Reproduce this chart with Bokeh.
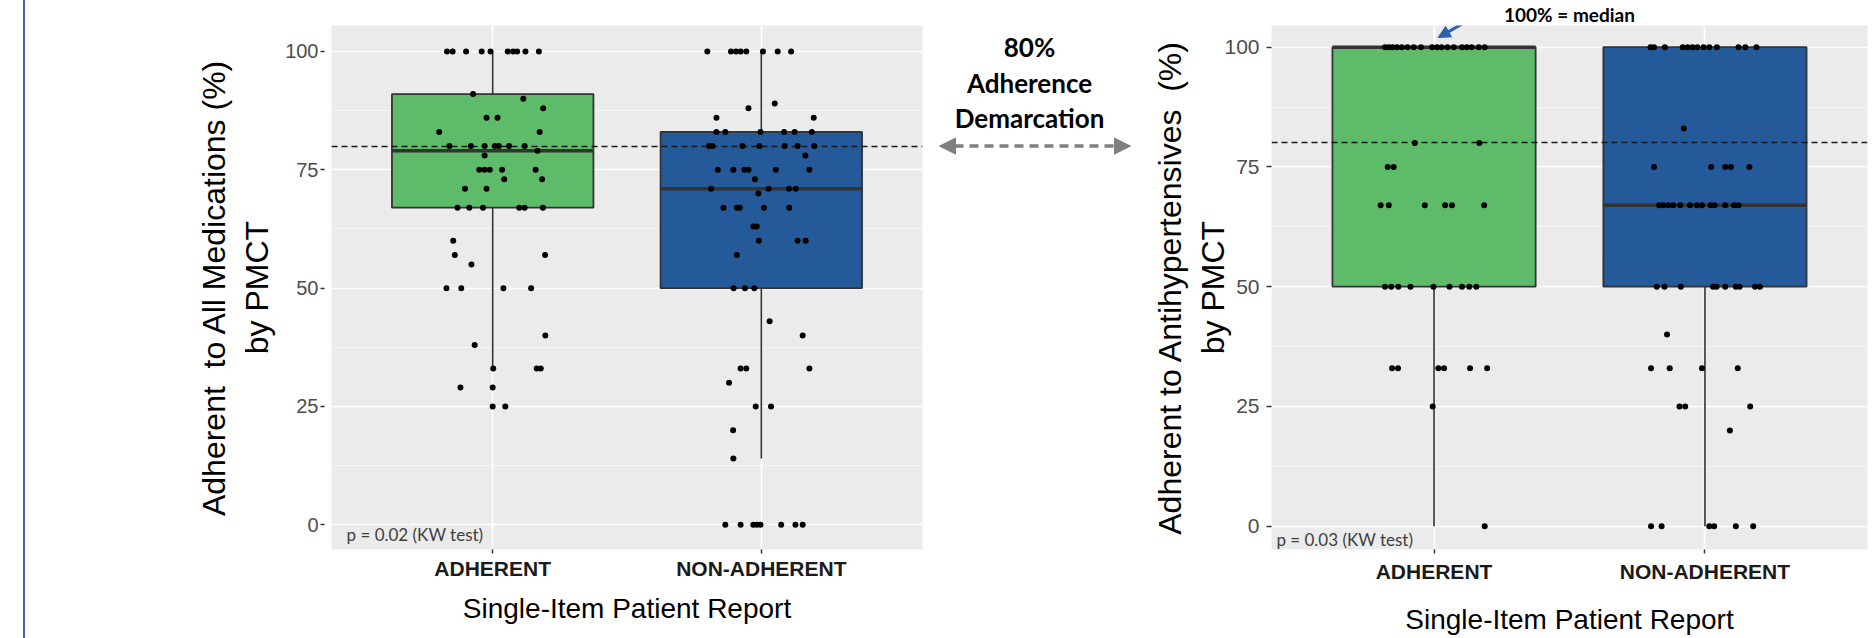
from bokeh.plotting import figure
from bokeh.layouts import row
from bokeh.models import Range1d, FixedTicker, Label, Arrow, NormalHead, Div
from bokeh.embed import file_html
from bokeh.resources import INLINE

# ---------------- data ----------------
categories = ["ADHERENT", "NON-ADHERENT"]
cat_pos = [1, 2]
y_ticks = [0, 25, 50, 75, 100]
y_minor = [12.5, 37.5, 62.5, 87.5]
threshold = 80

# Panel A: adherent to all medications (%) by PMCT
a_q1 = [67, 50]
a_med = [79, 71]
a_q3 = [91, 83]
a_lo = [33, 14]
a_hi = [100, 100]

a_adh_y = [100, 100, 100, 100, 100, 100, 100, 100, 100, 100, 91, 90, 88, 86, 86, 83, 83,
           80, 80, 80, 80, 80, 80, 80, 79, 78, 75, 75, 75, 75, 75, 73, 73, 71, 71,
           67, 67, 67, 67, 67, 67, 60, 57, 57, 55, 50, 50, 50, 50, 40, 38, 33, 33, 33,
           29, 29, 25, 25]
a_adh_dx = [-0.170, -0.149, -0.099, -0.041, -0.008, 0.056, 0.076, 0.091, 0.122, 0.172,
            -0.073, 0.114, 0.188, -0.023, 0.018, -0.199, 0.175,
            -0.161, -0.081, -0.030, 0.008, 0.023, 0.061, 0.119, 0.167, -0.030,
            -0.050, -0.030, -0.011, 0.035, 0.160, 0.043, 0.184, -0.103, -0.023,
            -0.131, -0.087, -0.036, 0.099, 0.119, 0.187, -0.147, -0.141, 0.195, -0.079,
            -0.172, -0.117, 0.040, 0.143, 0.196, -0.067, 0.002, 0.164, 0.179,
            -0.120, 0.000, 0.000, 0.047]

a_non_y = [100, 100, 100, 100, 100, 100, 100, 100, 89, 88, 86, 86,
           83, 83, 83, 83, 83, 83, 80, 80, 80, 80, 80, 80, 80, 78,
           75, 75, 75, 75, 75, 75, 73, 71, 71, 71, 71, 70, 67, 67, 67, 67, 67,
           63, 63, 60, 60, 60, 57, 50, 50, 50, 43, 40, 33, 33, 33, 30, 25, 25, 20, 14,
           0, 0, 0, 0, 0, 0, 0, 0]
a_non_dx = [-0.201, -0.113, -0.094, -0.077, -0.056, 0.006, 0.061, 0.111, 0.050, -0.048,
            -0.167, 0.195, -0.167, -0.134, -0.003, 0.085, 0.124, 0.188,
            -0.194, -0.182, -0.070, -0.007, 0.087, 0.135, 0.197, 0.164,
            -0.162, -0.104, -0.063, -0.048, 0.054, 0.179, -0.024, -0.187, 0.027, 0.103, 0.128,
            -0.011, -0.141, -0.091, -0.080, 0.010, 0.104, -0.030, -0.017,
            -0.009, 0.135, 0.165, -0.091, -0.103, -0.061, -0.026, 0.031, 0.154,
            -0.077, -0.056, 0.179, -0.120, -0.021, 0.036, -0.105, -0.104,
            -0.134, -0.077, -0.030, -0.017, -0.003, 0.074, 0.127, 0.154]

# Panel B: adherent to antihypertensives (%) by PMCT
b_q1 = [50, 50]
b_med = [100, 67]
b_q3 = [100, 100]
b_lo = [0, 0]
b_hi = [100, 100]

b_adh_y = [100, 100, 100, 100, 100, 100, 100, 100, 100, 100, 100, 100, 100, 100, 100, 100, 100, 100,
           80, 80, 75, 75, 67, 67, 67, 67, 67, 67, 50, 50, 50, 50, 50, 50, 50, 50, 50,
           33, 33, 33, 33, 33, 33, 25, 0]
b_adh_dx = [-0.181, -0.167, -0.153, -0.137, -0.119, -0.098, -0.075, -0.048, -0.007, 0.011,
            0.028, 0.050, 0.073, 0.103, 0.121, 0.139, 0.165, 0.187,
            -0.071, 0.167, -0.171, -0.149, -0.197, -0.167, -0.034, 0.041, 0.066, 0.185,
            -0.181, -0.158, -0.132, -0.087, -0.002, 0.057, 0.103, 0.130, 0.156,
            -0.155, -0.133, 0.016, 0.037, 0.133, 0.196, -0.005, 0.187]

b_non_y = [100, 100, 100, 100, 100, 100, 100, 100, 100, 100, 100, 100, 100, 83,
           75, 75, 75, 75, 75, 67, 67, 67, 67, 67, 67, 67, 67, 67, 67, 67, 67, 67,
           50, 50, 50, 50, 50, 50, 50, 50, 50, 50, 40, 33, 33, 33, 33, 25, 25, 25, 20,
           0, 0, 0, 0, 0, 0]
b_non_dx = [-0.201, -0.188, -0.148, -0.082, -0.064, -0.046, -0.028, -0.005, 0.016, 0.044,
            0.124, 0.149, 0.190, -0.078, -0.188, 0.023, 0.075, 0.096, 0.164,
            -0.169, -0.153, -0.135, -0.117, -0.091, -0.055, -0.030, -0.011, 0.021, 0.036,
            0.075, 0.108, 0.124,
            -0.178, -0.149, -0.089, 0.030, 0.043, 0.075, 0.114, 0.128, 0.185, 0.203,
            -0.140, -0.199, -0.130, -0.011, 0.121, -0.094, -0.073, 0.167, 0.092,
            -0.199, -0.160, 0.016, 0.034, 0.114, 0.178]

p_values = ["p = 0.02 (KW test)", "p = 0.03 (KW test)"]
y_titles = ["Adherent \u00a0to All Medications (%)\nby PMCT",
            "Adherent to Antihypertensives \u00a0(%)\nby PMCT"]
x_title = "Single-Item Patient Report"
demarcation_lines = ["80%", "Adherence", "Demarcation"]
median_note = "100% = median"

# ---------------- style ----------------
FONT = "Liberation Sans"
GREEN = "#5DBB6A"
BLUE = "#245A99"
DARK = "#333333"
ARROW_BLUE = "#2E5FA8"
H = 638
TOP = 24
BOTTOM = 89
BOX_W = 0.75


def panel(width, mb_left, mb_right, yr, q1, med, q3, lo, hi, groups,
          ytitle, ytick_size, ytick_in, ytick_out, ylab_standoff, ytitle_standoff,
          xlab_standoff, xtitle_standoff, ptext, px, py):
    p = figure(width=width, height=H, x_range=Range1d(0.4, 2.6), y_range=Range1d(*yr),
               output_backend="svg", toolbar_location=None,
               min_border_left=mb_left, min_border_right=mb_right,
               min_border_top=TOP, min_border_bottom=BOTTOM)
    p.background_fill_color = "#EBEBEB"
    p.border_fill_color = "white"
    p.outline_line_color = None

    # grid
    p.xgrid.grid_line_color = "white"
    p.xgrid.grid_line_width = 1.6
    p.ygrid.grid_line_color = "white"
    p.ygrid.grid_line_width = 1.6
    p.ygrid.minor_grid_line_color = "#F5F5F5"
    p.ygrid.minor_grid_line_width = 1

    # y axis
    p.yaxis.ticker = FixedTicker(ticks=y_ticks, minor_ticks=y_minor)
    p.yaxis.axis_line_color = None
    p.yaxis.minor_tick_line_color = None
    p.yaxis.major_tick_line_color = DARK
    p.yaxis.major_tick_line_width = 1.5
    p.yaxis.major_tick_in = ytick_in
    p.yaxis.major_tick_out = ytick_out
    p.yaxis.major_label_standoff = ylab_standoff
    p.yaxis.major_label_text_font = FONT
    p.yaxis.major_label_text_font_size = ytick_size
    p.yaxis.major_label_text_color = "#4D4D4D"
    p.yaxis.axis_label = ytitle
    p.yaxis.axis_label_text_font = FONT
    p.yaxis.axis_label_text_font_size = "32px"
    p.yaxis.axis_label_text_font_style = "normal"
    p.yaxis.axis_label_text_color = "black"
    p.yaxis.axis_label_standoff = ytitle_standoff

    # x axis
    p.xaxis.ticker = FixedTicker(ticks=cat_pos)
    p.xaxis.major_label_overrides = {c: n for c, n in zip(cat_pos, categories)}
    p.xaxis.axis_line_color = None
    p.xaxis.minor_tick_line_color = None
    p.xaxis.major_tick_line_color = DARK
    p.xaxis.major_tick_line_width = 1.5
    p.xaxis.major_tick_in = 0
    p.xaxis.major_tick_out = 4
    p.xaxis.major_label_standoff = xlab_standoff
    p.xaxis.major_label_text_font = FONT
    p.xaxis.major_label_text_font_size = "21px"
    p.xaxis.major_label_text_font_style = "bold"
    p.xaxis.major_label_text_color = "#1A1A1A"
    p.xaxis.axis_label = x_title
    p.xaxis.axis_label_text_font = FONT
    p.xaxis.axis_label_text_font_size = "28px"
    p.xaxis.axis_label_text_font_style = "normal"
    p.xaxis.axis_label_text_color = "black"
    p.xaxis.axis_label_standoff = xtitle_standoff

    # boxplots
    p.segment(x0=cat_pos, y0=q3, x1=cat_pos, y1=hi, line_color=DARK, line_width=1.6)
    p.segment(x0=cat_pos, y0=lo, x1=cat_pos, y1=q1, line_color=DARK, line_width=1.6)
    p.vbar(x=cat_pos, width=BOX_W, bottom=q1, top=q3, fill_color=[GREEN, BLUE],
           line_color=DARK, line_width=1.8)
    p.segment(x0=[c - BOX_W / 2 for c in cat_pos], y0=med,
              x1=[c + BOX_W / 2 for c in cat_pos], y1=med,
              line_color=DARK, line_width=3.5)

    # 80 % demarcation
    p.hspan(y=[threshold], line_color="#1A1A1A", line_width=1.6, line_dash="6 4")

    # jittered points
    for c, (ys, dxs) in zip(cat_pos, groups):
        p.scatter(x=[c + d for d in dxs], y=ys, size=6, fill_color="black",
                  line_color=None)

    p.add_layout(Label(x=px, y=py, text=ptext, text_font="Lato", text_font_size="17px",
                       text_color="#404040", text_baseline="middle", text_align="left"))
    return p


LEFT_YR = (-5.21, 105.48)
RIGHT_YR = (-4.85, 104.52)

left = panel(890, 291, 8, LEFT_YR, a_q1, a_med, a_q3, a_lo, a_hi,
             [(a_adh_y, a_adh_dx), (a_non_y, a_non_dx)],
             y_titles[0], "20px", -7, 11, 2, 7, 3, 10, p_values[0], 0.456, -2.0)

right = panel(734, 131, 7, RIGHT_YR, b_q1, b_med, b_q3, b_lo, b_hi,
              [(b_adh_y, b_adh_dx), (b_non_y, b_non_dx)],
              y_titles[1], "21px", 0, 5, 7, -10, 6, 18, p_values[1], 0.418, -2.7)

# "100% = median" note above the right panel, with a blue arrow to the ADHERENT median
right.title.text = median_note
right.title.align = "center"
right.title.text_font = "Lato"
right.title.text_font_style = "bold"
right.title.text_font_size = "19px"
right.title.text_color = "black"
right.title.standoff = 0
right.add_layout(Arrow(end=NormalHead(size=12, fill_color=ARROW_BLUE, line_color=ARROW_BLUE),
                       x_start=1.158, y_start=106.6, x_end=1.015, y_end=102.0,
                       line_color=ARROW_BLUE, line_width=3))

# middle annotation: 80 % Adherence Demarcation with a dashed double arrow
mid = figure(width=210, height=H, x_range=Range1d(0, 210), y_range=Range1d(*LEFT_YR),
             output_backend="svg", toolbar_location=None, x_axis_type=None, y_axis_type=None,
             min_border_left=0, min_border_right=0, min_border_top=TOP, min_border_bottom=BOTTOM)
mid.outline_line_color = None
mid.background_fill_color = "white"
mid.border_fill_color = "white"
for txt, yv in zip(demarcation_lines, [100.85, 93.3, 85.9]):
    mid.add_layout(Label(x=99, y=yv, text=txt, text_font="Lato", text_font_style="bold",
                         text_font_size="26px", text_color="black", text_align="center",
                         text_baseline="alphabetic"))
mid.add_layout(Arrow(start=NormalHead(size=16, fill_color="#7F7F7F", line_color="#7F7F7F"),
                     end=NormalHead(size=16, fill_color="#7F7F7F", line_color="#7F7F7F"),
                     x_start=9, y_start=threshold, x_end=200, y_end=threshold,
                     line_color="#7F7F7F", line_width=3.5, line_dash="9 6"))

# slide border line at far left
border = Div(text='<div style="margin-left:23px;width:2px;height:%dpx;background:#3A66B0;"></div>' % H,
             width=40, height=H, margin=0)

layout = row(border, left, mid, right, spacing=0)
open("out.html", "w").write(file_html(layout, INLINE))
